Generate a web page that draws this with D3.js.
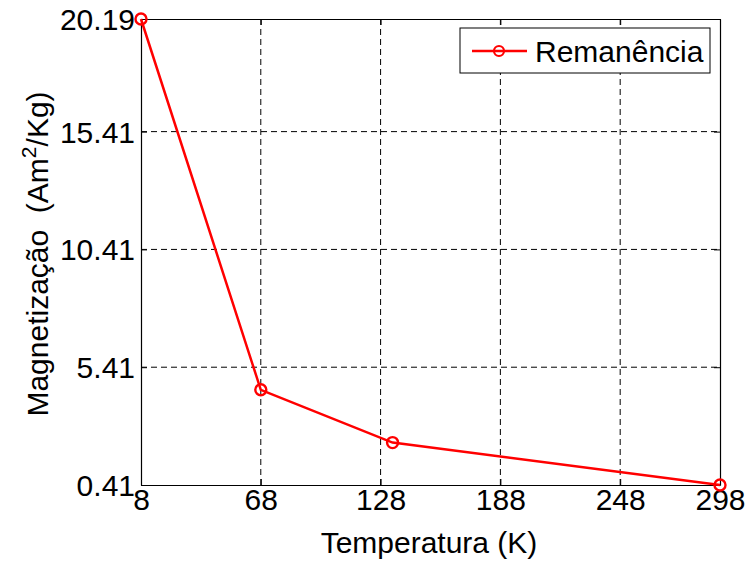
<!DOCTYPE html>
<html><head><meta charset="utf-8">
<script src="https://cdn.jsdelivr.net/npm/d3@7"></script>
<style>body{margin:0;background:#fff}svg{display:block}text{font-family:"Liberation Sans",Arial,sans-serif;white-space:pre}</style>
</head><body><svg id="c" width="747" height="561"></svg>
<script>
const temps = [8, 68, 134, 298];
const remanencia = [20.19, 4.45, 2.21, 0.41];
const xTicks = [8, 68, 128, 188, 248, 298];
const yTicks = [0.41, 5.41, 10.41, 15.41, 20.19];
const seriesName = "Remanência";

const W = 747, H = 561;
const m = {l: 141, r: 720, t: 19, b: 485};
const svg = d3.select("#c");
const x = d3.scaleLinear().domain([8, 298]).range([m.l, m.r]);
const y = d3.scaleLinear().domain([0.41, 20.19]).range([m.b, m.t]);
const fs = 30;

// grid
const g = svg.append("g");
g.selectAll(".gx").data(xTicks.slice(1, -1)).enter().append("line")
  .attr("x1", d => x(d)).attr("x2", d => x(d)).attr("y1", m.t).attr("y2", m.b)
  .attr("stroke", "#000").attr("stroke-width", 1).attr("stroke-dasharray", "6,4");
g.selectAll(".gy").data(yTicks.slice(1, -1)).enter().append("line")
  .attr("y1", d => y(d)).attr("y2", d => y(d)).attr("x1", m.l).attr("x2", m.r)
  .attr("stroke", "#000").attr("stroke-width", 1).attr("stroke-dasharray", "6,4");

// axes
const xAxis = svg.append("g").attr("transform", `translate(0,${m.b})`)
  .call(d3.axisBottom(x).tickValues(xTicks).tickFormat(d3.format("d")).tickSizeInner(-6).tickSizeOuter(0).tickPadding(4));
const yAxis = svg.append("g").attr("transform", `translate(${m.l},0)`)
  .call(d3.axisLeft(y).tickValues(yTicks).tickFormat(d => d.toFixed(2)).tickSizeInner(-6).tickSizeOuter(0).tickPadding(6));
svg.append("g").attr("transform", `translate(0,${m.t})`)
  .call(d3.axisTop(x).tickValues(xTicks).tickFormat("").tickSizeInner(-6).tickSizeOuter(0));
svg.append("g").attr("transform", `translate(${m.r},0)`)
  .call(d3.axisRight(y).tickValues(yTicks).tickFormat("").tickSizeInner(-6).tickSizeOuter(0));
svg.selectAll(".domain").attr("stroke", "#000").attr("stroke-width", 1.2);
svg.selectAll(".tick line").attr("stroke", "#000");
xAxis.selectAll("text").attr("font-size", fs).attr("fill", "#000").attr("dy", "0.71em");
yAxis.selectAll("text").attr("font-size", fs).attr("fill", "#000").attr("dy", "0.35em");

// line
const line = d3.line().x((d, i) => x(temps[i])).y(d => y(d));
svg.append("path").datum(remanencia).attr("d", line)
  .attr("fill", "none").attr("stroke", "#ff0000").attr("stroke-width", 2.5);
svg.selectAll(".mk").data(remanencia).enter().append("circle")
  .attr("cx", (d, i) => x(temps[i])).attr("cy", d => y(d)).attr("r", 5.5)
  .attr("fill", "none").attr("stroke", "#ff0000").attr("stroke-width", 2.4);

// labels
svg.append("text").attr("x", 429).attr("y", 553).attr("text-anchor", "middle")
  .attr("font-size", fs).attr("fill", "#000").text("Temperatura (K)");
const yl = svg.append("text").attr("transform", "translate(48,254) rotate(-90)")
  .attr("text-anchor", "middle").attr("font-size", fs).attr("fill", "#000");
yl.append("tspan").text("Magnetização  (Am");
yl.append("tspan").attr("font-size", fs * 0.7).attr("dy", -12).text("2");
yl.append("tspan").attr("dy", 12).text("/Kg)");

// legend
const lg = svg.append("g");
lg.append("rect").attr("x", 460).attr("y", 28).attr("width", 250).attr("height", 45)
  .attr("fill", "#fff").attr("stroke", "#000").attr("stroke-width", 1);
lg.append("line").attr("x1", 472).attr("x2", 527).attr("y1", 51).attr("y2", 51)
  .attr("stroke", "#ff0000").attr("stroke-width", 2.5);
lg.append("circle").attr("cx", 499).attr("cy", 51).attr("r", 5)
  .attr("fill", "none").attr("stroke", "#ff0000").attr("stroke-width", 2.2);
lg.append("text").attr("x", 535).attr("y", 51).attr("dy", "0.35em")
  .attr("font-size", fs).attr("fill", "#000").text(seriesName);
</script></body></html>
